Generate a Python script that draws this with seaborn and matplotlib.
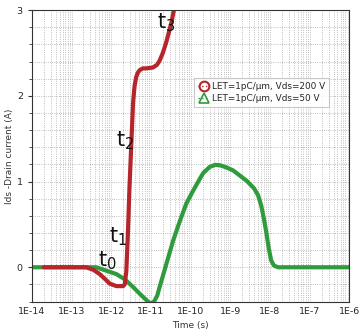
import numpy as np
import pandas as pd
import matplotlib
matplotlib.use('Agg')
import matplotlib.pyplot as plt
import matplotlib.ticker as mticker
from matplotlib.lines import Line2D
import seaborn as sns

# log10(time) and drain current
red_logt = [-13.7, -13.05, -12.63, -12.45, -12.29, -12.15, -12.04, -11.87, -11.7, -11.66,
            -11.62, -11.58, -11.54, -11.49, -11.45, -11.41, -11.37, -11.33, -11.28, -11.2,
            -11.12, -10.95, -10.85, -10.78, -10.7, -10.61, -10.48, -10.40]
red_ids = [0.0, 0.0, 0.0, -0.03, -0.08, -0.14, -0.19, -0.22, -0.22, -0.2,
           -0.05, 0.39, 0.93, 1.48, 1.92, 2.12, 2.22, 2.27, 2.30, 2.32,
           2.32, 2.33, 2.36, 2.41, 2.5, 2.63, 2.86, 3.05]

green_logt = [-14.0, -12.38, -12.12, -11.87, -11.66, -11.45, -11.28, -11.12, -11.05, -10.99,
              -10.92, -10.84, -10.78, -10.61, -10.44, -10.27, -10.11, -9.94, -9.77, -9.68,
              -9.52, -9.38, -9.26, -9.1, -8.93, -8.59, -8.4, -8.3, -8.22, -8.15,
              -8.09, -8.03, -7.97, -7.9, -7.8, -6.0]
green_ids = [0.0, 0.0, -0.04, -0.08, -0.14, -0.23, -0.31, -0.38, -0.41, -0.42,
             -0.40, -0.33, -0.23, 0.04, 0.31, 0.54, 0.74, 0.89, 1.03, 1.10,
             1.17, 1.195, 1.19, 1.165, 1.13, 1.01, 0.92, 0.84, 0.72, 0.56,
             0.40, 0.22, 0.08, 0.02, 0.0, 0.0]

labels = ['LET=1pC/\u00b5m, Vds=200 V', 'LET=1pC/\u00b5m, Vds=50 V']
xtick_labels = ['1E-14', '1E-13', '1E-12', '1E-11', '1E-10', '1E-9', '1E-8', '1E-7', '1E-6']

red_c = '#b5262b'
green_c = '#2f9b3c'

df = pd.concat([
    pd.DataFrame({'t': np.power(10.0, red_logt), 'ids': red_ids, 'case': labels[0]}),
    pd.DataFrame({'t': np.power(10.0, green_logt), 'ids': green_ids, 'case': labels[1]}),
])

sns.set_style('white')
plt.rcParams['font.family'] = ['DejaVu Sans']

fig, ax = plt.subplots(figsize=(3.62, 3.36), dpi=100)
fig.subplots_adjust(left=0.088, right=0.965, top=0.97, bottom=0.10)

sns.lineplot(data=df[df.case == labels[1]], x='t', y='ids', color=green_c, lw=3, ax=ax,
             legend=False, sort=False, solid_joinstyle='round')
sns.lineplot(data=df[df.case == labels[0]], x='t', y='ids', color=red_c, lw=3, ax=ax,
             legend=False, sort=False, solid_joinstyle='round')

ax.set_xscale('log')
ax.set_xlim(1e-14, 1e-6)
ax.set_ylim(-0.41, 3)
ax.xaxis.set_major_locator(mticker.FixedLocator([10.0 ** k for k in range(-14, -5)]))
ax.xaxis.set_major_formatter(mticker.FixedFormatter(xtick_labels))
ax.xaxis.set_minor_locator(mticker.LogLocator(base=10, subs=np.arange(2, 10), numticks=100))
ax.xaxis.set_minor_formatter(mticker.NullFormatter())
ax.yaxis.set_major_locator(mticker.MultipleLocator(1))
ax.yaxis.set_minor_locator(mticker.MultipleLocator(0.2))

ax.grid(which='both', color='#aaaaaa', ls=':', lw=0.6)
ax.tick_params(axis='x', which='both', direction='in', labelsize=6.8, pad=3, length=3, color='#333333')
ax.tick_params(axis='x', which='minor', length=2)
ax.tick_params(axis='y', which='both', direction='out', labelsize=6.8, length=3, color='#333333', left=True)
ax.tick_params(axis='y', which='minor', length=2)
for s in ax.spines.values():
    s.set_color('#333333')
    s.set_linewidth(0.8)

ax.set_xlabel('Time (s)', fontsize=6.5, color='#333333')
ax.set_ylabel('Ids -Drain current (A)', fontsize=6.5, color='#333333', labelpad=2)

for txt, lt, yv in [('t$_3$', -10.62, 2.85), ('t$_2$', -11.66, 1.48),
                    ('t$_1$', -11.82, 0.36), ('t$_0$', -12.1, 0.08)]:
    ax.text(10 ** lt, yv, txt, fontsize=15, ha='center', va='center', color='#111111')

handles = [Line2D([], [], color=red_c, ls=':', lw=1, marker='o', mfc='none', ms=7, mew=1.5),
           Line2D([], [], color=green_c, ls=':', lw=1, marker='^', mfc='none', ms=7, mew=1.2)]
leg = ax.legend(handles, labels, loc='upper left', bbox_to_anchor=(0.51, 0.768), fontsize=6.4,
                frameon=True, fancybox=False, handlelength=1.3, handletextpad=0.3,
                borderpad=0.45, labelspacing=0.35, borderaxespad=0)
leg.get_frame().set_edgecolor('#bbbbbb')
leg.get_frame().set_linewidth(0.8)

fig.savefig('out.png', dpi=100)
